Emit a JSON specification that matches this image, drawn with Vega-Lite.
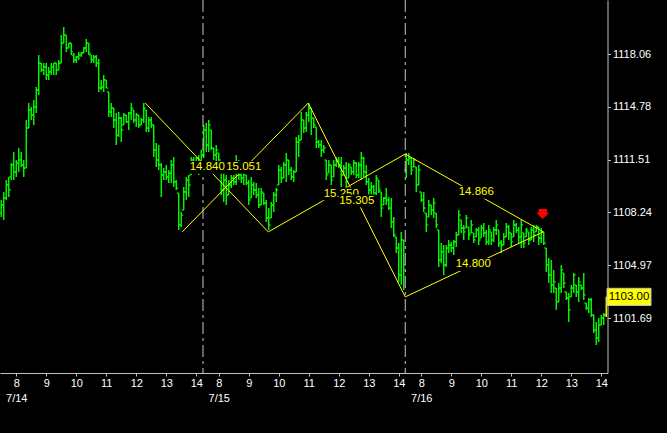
{
"$schema": "https://vega.github.io/schema/vega-lite/v6.json",
"width": 607.5, "height": 373,
"autosize": {"type": "none"},
"padding": {"left": 0, "top": 0, "right": 60, "bottom": 60},
"background": "#000000",
"config": {"view": {"stroke": null}, "axis": {"labelOverlap": false, "labelBound": false, "labelFlush": false, "grid": false}},
"datasets": {
"bars": [
{"m":0,"o":1108.20,"h":1109.01,"l":1107.96,"c":1108.70},
{"m":5,"o":1108.70,"h":1109.51,"l":1107.77,"c":1109.13},
{"m":10,"o":1109.13,"h":1110.25,"l":1109.01,"c":1109.94},
{"m":15,"o":1109.94,"h":1110.44,"l":1109.20,"c":1109.63},
{"m":20,"o":1110.44,"h":1111.30,"l":1110.25,"c":1111.18},
{"m":25,"o":1111.18,"h":1111.99,"l":1110.25,"c":1110.75},
{"m":30,"o":1110.75,"h":1111.49,"l":1110.44,"c":1111.30},
{"m":35,"o":1111.30,"h":1112.23,"l":1110.75,"c":1111.49},
{"m":40,"o":1111.49,"h":1111.99,"l":1111.06,"c":1111.18},
{"m":45,"o":1111.18,"h":1111.49,"l":1110.44,"c":1110.99},
{"m":50,"o":1110.99,"h":1113.97,"l":1110.99,"c":1113.47},
{"m":55,"o":1113.47,"h":1115.02,"l":1113.47,"c":1114.59},
{"m":60,"o":1114.59,"h":1114.78,"l":1113.97,"c":1114.28},
{"m":65,"o":1114.28,"h":1115.21,"l":1113.66,"c":1114.78},
{"m":70,"o":1114.78,"h":1116.02,"l":1114.40,"c":1115.83},
{"m":75,"o":1115.83,"h":1118.00,"l":1115.52,"c":1117.50},
{"m":80,"o":1117.50,"h":1117.50,"l":1116.95,"c":1117.07},
{"m":85,"o":1117.07,"h":1117.50,"l":1116.76,"c":1117.26},
{"m":90,"o":1117.26,"h":1117.50,"l":1116.45,"c":1116.76},
{"m":95,"o":1116.76,"h":1117.26,"l":1116.45,"c":1116.95},
{"m":100,"o":1116.95,"h":1117.50,"l":1116.76,"c":1117.26},
{"m":105,"o":1117.26,"h":1117.50,"l":1116.76,"c":1117.50},
{"m":110,"o":1117.50,"h":1117.50,"l":1116.76,"c":1117.07},
{"m":115,"o":1117.07,"h":1117.69,"l":1117.07,"c":1117.50},
{"m":120,"o":1117.50,"h":1119.24,"l":1117.50,"c":1118.74},
{"m":125,"o":1118.74,"h":1119.74,"l":1118.74,"c":1119.24},
{"m":130,"o":1119.24,"h":1119.24,"l":1118.19,"c":1118.43},
{"m":135,"o":1118.43,"h":1118.74,"l":1118.43,"c":1118.74},
{"m":140,"o":1118.74,"h":1118.74,"l":1118.00,"c":1118.19},
{"m":145,"o":1118.00,"h":1118.12,"l":1117.50,"c":1117.69},
{"m":150,"o":1117.69,"h":1117.94,"l":1117.50,"c":1117.88},
{"m":155,"o":1117.88,"h":1118.19,"l":1117.69,"c":1118.00},
{"m":160,"o":1118.00,"h":1118.19,"l":1117.88,"c":1118.12},
{"m":165,"o":1118.12,"h":1118.50,"l":1118.12,"c":1118.43},
{"m":170,"o":1118.43,"h":1118.99,"l":1118.19,"c":1118.74},
{"m":175,"o":1118.74,"h":1118.74,"l":1118.00,"c":1118.12},
{"m":180,"o":1118.00,"h":1118.00,"l":1117.50,"c":1117.69},
{"m":185,"o":1117.69,"h":1118.00,"l":1117.50,"c":1117.88},
{"m":190,"o":1117.88,"h":1118.00,"l":1117.26,"c":1117.50},
{"m":195,"o":1117.50,"h":1117.75,"l":1115.71,"c":1115.95},
{"m":200,"o":1115.95,"h":1116.45,"l":1115.83,"c":1116.02},
{"m":205,"o":1116.02,"h":1116.76,"l":1115.71,"c":1116.45},
{"m":210,"o":1116.45,"h":1116.45,"l":1115.95,"c":1115.95},
{"m":215,"o":1115.71,"h":1115.71,"l":1114.16,"c":1114.47},
{"m":220,"o":1114.47,"h":1115.02,"l":1114.16,"c":1114.71},
{"m":225,"o":1114.71,"h":1114.71,"l":1113.47,"c":1113.97},
{"m":230,"o":1113.97,"h":1114.40,"l":1112.42,"c":1113.04},
{"m":235,"o":1113.04,"h":1114.47,"l":1112.92,"c":1114.09},
{"m":240,"o":1114.09,"h":1114.16,"l":1112.61,"c":1113.35},
{"m":245,"o":1113.66,"h":1114.40,"l":1113.66,"c":1114.28},
{"m":250,"o":1114.28,"h":1114.28,"l":1113.78,"c":1113.85},
{"m":255,"o":1113.85,"h":1114.47,"l":1113.35,"c":1114.40},
{"m":260,"o":1114.40,"h":1115.02,"l":1113.97,"c":1114.71},
{"m":265,"o":1114.59,"h":1114.59,"l":1113.78,"c":1113.97},
{"m":270,"o":1113.97,"h":1114.40,"l":1113.54,"c":1114.28},
{"m":275,"o":1114.28,"h":1114.28,"l":1113.47,"c":1113.66},
{"m":280,"o":1113.66,"h":1114.09,"l":1113.66,"c":1113.97},
{"m":285,"o":1113.97,"h":1115.02,"l":1113.78,"c":1114.71},
{"m":290,"o":1114.59,"h":1114.59,"l":1113.23,"c":1113.47},
{"m":295,"o":1113.47,"h":1114.16,"l":1113.23,"c":1113.97},
{"m":300,"o":1113.97,"h":1114.16,"l":1113.47,"c":1113.66},
{"m":305,"o":1113.66,"h":1113.66,"l":1111.68,"c":1112.11},
{"m":310,"o":1112.11,"h":1112.54,"l":1111.06,"c":1111.49},
{"m":315,"o":1111.49,"h":1112.42,"l":1110.87,"c":1111.18},
{"m":320,"o":1111.18,"h":1111.30,"l":1109.20,"c":1110.56},
{"m":325,"o":1110.56,"h":1110.99,"l":1110.25,"c":1110.75},
{"m":330,"o":1110.75,"h":1111.18,"l":1110.25,"c":1110.44},
{"m":335,"o":1110.44,"h":1110.87,"l":1110.06,"c":1110.68},
{"m":340,"o":1110.68,"h":1111.49,"l":1110.06,"c":1111.18},
{"m":345,"o":1111.18,"h":1111.68,"l":1109.82,"c":1110.13},
{"m":350,"o":1110.13,"h":1110.25,"l":1109.63,"c":1109.75},
{"m":355,"o":1109.44,"h":1109.44,"l":1107.15,"c":1107.46},
{"m":360,"o":1107.46,"h":1108.27,"l":1107.34,"c":1108.08},
{"m":365,"o":1108.39,"h":1109.82,"l":1108.39,"c":1109.51},
{"m":370,"o":1109.51,"h":1110.44,"l":1109.01,"c":1110.25},
{"m":375,"o":1110.25,"h":1110.56,"l":1109.20,"c":1109.94},
{"m":380,"o":1110.56,"h":1111.68,"l":1110.56,"c":1111.49},
{"m":385,"o":1111.49,"h":1111.68,"l":1110.87,"c":1111.18},
{"m":390,"o":1111.18,"h":1111.68,"l":1110.75,"c":1111.61},
{"m":395,"o":1111.61,"h":1111.80,"l":1110.56,"c":1110.87},
{"m":400,"o":1110.99,"h":1112.11,"l":1110.99,"c":1111.80},
{"m":405,"o":1112.11,"h":1113.66,"l":1111.61,"c":1113.35},
{"m":410,"o":1113.35,"h":1113.78,"l":1111.99,"c":1112.42},
{"m":415,"o":1112.42,"h":1113.97,"l":1111.99,"c":1113.66},
{"m":420,"o":1113.35,"h":1113.35,"l":1112.11,"c":1112.23},
{"m":425,"o":1112.23,"h":1112.23,"l":1111.49,"c":1111.80},
{"m":430,"o":1111.80,"h":1112.42,"l":1111.37,"c":1112.11},
{"m":435,"o":1111.92,"h":1111.92,"l":1111.37,"c":1111.49},
{"m":440,"o":1111.18,"h":1111.18,"l":1109.32,"c":1109.63},
{"m":445,"o":1109.63,"h":1110.75,"l":1108.89,"c":1110.25},
{"m":450,"o":1110.25,"h":1110.56,"l":1108.70,"c":1109.32},
{"m":455,"o":1109.32,"h":1110.25,"l":1109.32,"c":1109.94},
{"m":460,"o":1109.94,"h":1110.56,"l":1109.75,"c":1110.37},
{"m":465,"o":1110.37,"h":1110.56,"l":1109.94,"c":1110.13},
{"m":470,"o":1110.13,"h":1111.80,"l":1109.94,"c":1111.18},
{"m":475,"o":1111.18,"h":1111.49,"l":1110.25,"c":1110.56},
{"m":480,"o":1110.56,"h":1110.68,"l":1110.06,"c":1110.37},
{"m":485,"o":1110.37,"h":1110.87,"l":1109.94,"c":1110.75},
{"m":490,"o":1110.56,"h":1110.56,"l":1109.94,"c":1110.06},
{"m":495,"o":1110.06,"h":1110.25,"l":1108.70,"c":1109.01},
{"m":500,"o":1109.13,"h":1110.44,"l":1109.13,"c":1109.94},
{"m":505,"o":1109.94,"h":1110.13,"l":1109.32,"c":1109.63},
{"m":510,"o":1109.63,"h":1110.06,"l":1109.13,"c":1109.32},
{"m":515,"o":1109.32,"h":1109.75,"l":1108.51,"c":1108.70},
{"m":520,"o":1108.70,"h":1109.75,"l":1108.70,"c":1109.51},
{"m":525,"o":1109.44,"h":1109.44,"l":1108.70,"c":1108.82},
{"m":530,"o":1108.82,"h":1109.01,"l":1107.65,"c":1107.89},
{"m":535,"o":1107.89,"h":1108.51,"l":1107.15,"c":1107.46},
{"m":540,"o":1107.89,"h":1108.89,"l":1107.89,"c":1108.70},
{"m":545,"o":1108.70,"h":1109.51,"l":1108.27,"c":1109.32},
{"m":550,"o":1109.32,"h":1109.75,"l":1108.89,"c":1109.63},
{"m":555,"o":1109.94,"h":1111.18,"l":1109.94,"c":1110.87},
{"m":560,"o":1110.87,"h":1111.06,"l":1110.06,"c":1110.37},
{"m":565,"o":1110.37,"h":1111.37,"l":1110.37,"c":1111.18},
{"m":570,"o":1111.18,"h":1111.92,"l":1110.13,"c":1111.49},
{"m":575,"o":1111.49,"h":1111.49,"l":1110.56,"c":1110.87},
{"m":580,"o":1110.87,"h":1111.06,"l":1110.25,"c":1110.44},
{"m":585,"o":1110.44,"h":1110.87,"l":1110.13,"c":1110.75},
{"m":590,"o":1110.75,"h":1112.92,"l":1110.75,"c":1112.61},
{"m":595,"o":1112.61,"h":1113.04,"l":1111.68,"c":1112.73},
{"m":600,"o":1112.73,"h":1114.47,"l":1112.73,"c":1113.97},
{"m":605,"o":1113.97,"h":1113.97,"l":1113.16,"c":1113.47},
{"m":610,"o":1113.47,"h":1114.47,"l":1113.23,"c":1114.28},
{"m":615,"o":1114.28,"h":1115.02,"l":1113.85,"c":1114.71},
{"m":620,"o":1114.71,"h":1114.71,"l":1113.04,"c":1114.09},
{"m":625,"o":1114.09,"h":1114.09,"l":1113.47,"c":1113.66},
{"m":630,"o":1113.54,"h":1113.54,"l":1112.23,"c":1112.61},
{"m":635,"o":1112.61,"h":1112.73,"l":1112.23,"c":1112.42},
{"m":640,"o":1112.42,"h":1112.73,"l":1111.68,"c":1112.11},
{"m":645,"o":1112.11,"h":1112.42,"l":1111.92,"c":1112.23},
{"m":650,"o":1111.49,"h":1111.49,"l":1110.25,"c":1110.56},
{"m":655,"o":1110.68,"h":1111.49,"l":1110.68,"c":1111.18},
{"m":660,"o":1111.18,"h":1111.18,"l":1109.94,"c":1110.25},
{"m":665,"o":1110.44,"h":1111.49,"l":1110.44,"c":1111.18},
{"m":670,"o":1111.18,"h":1111.68,"l":1111.06,"c":1111.49},
{"m":675,"o":1111.49,"h":1111.68,"l":1110.99,"c":1111.18},
{"m":680,"o":1111.18,"h":1111.68,"l":1109.82,"c":1110.56},
{"m":685,"o":1110.56,"h":1111.18,"l":1110.56,"c":1110.99},
{"m":690,"o":1110.99,"h":1111.37,"l":1109.82,"c":1110.13},
{"m":695,"o":1110.37,"h":1111.30,"l":1110.37,"c":1111.18},
{"m":700,"o":1111.06,"h":1111.06,"l":1110.56,"c":1110.75},
{"m":705,"o":1110.75,"h":1111.49,"l":1110.56,"c":1111.30},
{"m":710,"o":1111.30,"h":1111.37,"l":1110.37,"c":1110.56},
{"m":715,"o":1110.56,"h":1111.37,"l":1110.37,"c":1111.18},
{"m":720,"o":1111.18,"h":1111.99,"l":1110.25,"c":1111.61},
{"m":725,"o":1111.61,"h":1111.68,"l":1110.44,"c":1110.75},
{"m":730,"o":1110.75,"h":1111.18,"l":1109.94,"c":1110.13},
{"m":735,"o":1110.13,"h":1110.37,"l":1109.32,"c":1109.63},
{"m":740,"o":1109.63,"h":1110.13,"l":1109.32,"c":1109.82},
{"m":745,"o":1109.82,"h":1109.94,"l":1109.20,"c":1109.44},
{"m":750,"o":1109.44,"h":1110.56,"l":1109.32,"c":1110.37},
{"m":755,"o":1110.25,"h":1110.25,"l":1109.44,"c":1109.63},
{"m":760,"o":1109.51,"h":1109.51,"l":1107.96,"c":1108.51},
{"m":765,"o":1108.70,"h":1109.20,"l":1108.70,"c":1109.13},
{"m":770,"o":1109.13,"h":1109.75,"l":1108.70,"c":1109.01},
{"m":775,"o":1109.01,"h":1109.20,"l":1108.39,"c":1108.51},
{"m":780,"o":1108.51,"h":1109.13,"l":1107.27,"c":1107.65},
{"m":785,"o":1107.65,"h":1107.96,"l":1106.72,"c":1106.84},
{"m":790,"o":1106.72,"h":1106.72,"l":1105.72,"c":1106.03},
{"m":795,"o":1106.03,"h":1106.34,"l":1103.93,"c":1104.36},
{"m":800,"o":1104.36,"h":1107.03,"l":1103.74,"c":1106.53},
{"m":805,"o":1106.53,"h":1106.53,"l":1103.43,"c":1104.98},
{"m":810,"o":1110.87,"h":1111.92,"l":1110.37,"c":1111.49},
{"m":815,"o":1111.49,"h":1111.92,"l":1111.18,"c":1111.61},
{"m":820,"o":1111.61,"h":1111.61,"l":1110.56,"c":1110.87},
{"m":825,"o":1111.06,"h":1111.61,"l":1111.06,"c":1111.49},
{"m":830,"o":1111.06,"h":1111.06,"l":1109.51,"c":1109.94},
{"m":835,"o":1109.94,"h":1111.18,"l":1109.94,"c":1110.87},
{"m":840,"o":1109.51,"h":1109.51,"l":1108.89,"c":1109.01},
{"m":845,"o":1109.01,"h":1109.51,"l":1108.27,"c":1108.51},
{"m":850,"o":1108.20,"h":1108.20,"l":1107.03,"c":1107.46},
{"m":855,"o":1107.96,"h":1109.01,"l":1107.96,"c":1108.70},
{"m":860,"o":1108.70,"h":1108.70,"l":1108.08,"c":1108.39},
{"m":865,"o":1108.39,"h":1109.13,"l":1107.89,"c":1108.82},
{"m":870,"o":1108.20,"h":1108.20,"l":1107.27,"c":1107.46},
{"m":875,"o":1107.15,"h":1107.15,"l":1104.86,"c":1105.29},
{"m":880,"o":1105.29,"h":1106.34,"l":1105.10,"c":1105.79},
{"m":885,"o":1105.79,"h":1106.22,"l":1104.36,"c":1104.98},
{"m":890,"o":1104.98,"h":1106.22,"l":1104.86,"c":1106.03},
{"m":895,"o":1106.03,"h":1106.53,"l":1105.72,"c":1106.22},
{"m":900,"o":1106.22,"h":1106.41,"l":1105.79,"c":1106.03},
{"m":905,"o":1106.03,"h":1106.53,"l":1105.60,"c":1106.41},
{"m":910,"o":1106.41,"h":1107.03,"l":1106.10,"c":1106.84},
{"m":915,"o":1106.84,"h":1108.39,"l":1106.84,"c":1108.08},
{"m":920,"o":1107.77,"h":1107.77,"l":1106.96,"c":1107.27},
{"m":925,"o":1107.27,"h":1107.46,"l":1106.53,"c":1107.03},
{"m":930,"o":1107.27,"h":1108.08,"l":1107.27,"c":1107.89},
{"m":935,"o":1107.34,"h":1107.34,"l":1106.53,"c":1106.84},
{"m":940,"o":1106.96,"h":1107.77,"l":1106.96,"c":1107.46},
{"m":945,"o":1106.96,"h":1106.96,"l":1106.34,"c":1106.53},
{"m":950,"o":1106.72,"h":1107.27,"l":1106.72,"c":1107.15},
{"m":955,"o":1107.15,"h":1107.34,"l":1106.22,"c":1106.53},
{"m":960,"o":1106.65,"h":1107.46,"l":1106.65,"c":1107.27},
{"m":965,"o":1107.27,"h":1107.58,"l":1106.72,"c":1106.96},
{"m":970,"o":1106.96,"h":1107.15,"l":1106.22,"c":1106.41},
{"m":975,"o":1106.41,"h":1107.46,"l":1106.22,"c":1107.15},
{"m":980,"o":1107.03,"h":1107.03,"l":1106.22,"c":1106.53},
{"m":985,"o":1106.53,"h":1107.34,"l":1106.41,"c":1107.15},
{"m":990,"o":1107.15,"h":1107.77,"l":1106.84,"c":1107.46},
{"m":995,"o":1107.15,"h":1107.15,"l":1106.10,"c":1106.34},
{"m":1000,"o":1106.34,"h":1106.53,"l":1105.72,"c":1106.22},
{"m":1005,"o":1106.22,"h":1106.96,"l":1106.22,"c":1106.72},
{"m":1010,"o":1106.72,"h":1107.58,"l":1106.72,"c":1107.34},
{"m":1015,"o":1107.34,"h":1107.46,"l":1106.53,"c":1106.96},
{"m":1020,"o":1106.96,"h":1106.96,"l":1106.10,"c":1106.41},
{"m":1025,"o":1106.72,"h":1107.77,"l":1106.72,"c":1107.46},
{"m":1030,"o":1107.46,"h":1107.58,"l":1106.96,"c":1107.15},
{"m":1035,"o":1107.15,"h":1107.34,"l":1106.34,"c":1106.72},
{"m":1040,"o":1106.72,"h":1107.77,"l":1106.03,"c":1107.46},
{"m":1045,"o":1106.96,"h":1106.96,"l":1106.03,"c":1106.34},
{"m":1050,"o":1106.72,"h":1107.27,"l":1106.72,"c":1107.15},
{"m":1055,"o":1107.03,"h":1107.03,"l":1106.22,"c":1106.53},
{"m":1060,"o":1106.53,"h":1107.34,"l":1106.53,"c":1107.15},
{"m":1065,"o":1107.15,"h":1107.46,"l":1106.41,"c":1106.84},
{"m":1070,"o":1107.03,"h":1107.46,"l":1107.03,"c":1107.34},
{"m":1075,"o":1107.34,"h":1107.34,"l":1106.22,"c":1106.65},
{"m":1080,"o":1106.65,"h":1107.27,"l":1106.34,"c":1107.03},
{"m":1085,"o":1107.03,"h":1107.03,"l":1106.22,"c":1106.34},
{"m":1090,"o":1106.03,"h":1106.03,"l":1104.55,"c":1104.98},
{"m":1095,"o":1104.98,"h":1105.41,"l":1103.86,"c":1104.36},
{"m":1100,"o":1104.36,"h":1105.29,"l":1103.24,"c":1103.74},
{"m":1105,"o":1103.74,"h":1104.67,"l":1103.24,"c":1103.93},
{"m":1110,"o":1103.55,"h":1103.55,"l":1102.19,"c":1102.69},
{"m":1115,"o":1102.69,"h":1103.86,"l":1102.69,"c":1103.55},
{"m":1120,"o":1103.55,"h":1104.98,"l":1103.24,"c":1104.67},
{"m":1125,"o":1104.48,"h":1104.48,"l":1103.55,"c":1103.86},
{"m":1130,"o":1103.31,"h":1103.31,"l":1102.81,"c":1102.93},
{"m":1135,"o":1102.93,"h":1103.24,"l":1101.45,"c":1102.19},
{"m":1140,"o":1103.00,"h":1103.74,"l":1103.00,"c":1103.55},
{"m":1145,"o":1103.55,"h":1104.48,"l":1103.24,"c":1104.36},
{"m":1150,"o":1103.74,"h":1103.74,"l":1103.00,"c":1103.31},
{"m":1155,"o":1103.31,"h":1104.24,"l":1102.69,"c":1103.93},
{"m":1160,"o":1103.74,"h":1103.74,"l":1103.43,"c":1103.55},
{"m":1165,"o":1103.55,"h":1104.48,"l":1102.81,"c":1103.12},
{"m":1170,"o":1102.62,"h":1102.62,"l":1102.19,"c":1102.31},
{"m":1175,"o":1102.31,"h":1102.93,"l":1102.00,"c":1102.81},
{"m":1180,"o":1102.81,"h":1102.93,"l":1101.76,"c":1101.88},
{"m":1185,"o":1101.88,"h":1101.88,"l":1100.76,"c":1100.95},
{"m":1190,"o":1100.95,"h":1101.45,"l":1100.02,"c":1100.45},
{"m":1195,"o":1100.45,"h":1101.69,"l":1100.21,"c":1101.26},
{"m":1200,"o":1101.26,"h":1101.88,"l":1101.26,"c":1101.69},
{"m":1205,"o":1101.69,"h":1102.00,"l":1101.26,"c":1101.88},
{"m":1210,"o":1101.88,"h":1103.00,"l":1101.76,"c":1103.00}
],
"days": [{"m":403.5},{"m":808}],
"lines": [
{"m":288,"p":1115.02,"m2":534,"p2":1107.03},
{"m":362,"p":1107.03,"m2":614,"p2":1115.02},
{"m":614,"p":1115.02,"m2":808,"p2":1103.00},
{"m":534,"p":1107.03,"m2":808,"p2":1111.86},
{"m":808,"p":1111.86,"m2":1084,"p2":1107.03},
{"m":808,"p":1103.00,"m2":1084,"p2":1107.03}
],
"labels": [
{"m":412,"p":1111.03,"t":"14.840"},
{"m":485,"p":1111.03,"t":"15.051"},
{"m":680,"p":1109.38,"t":"15.250"},
{"m":711,"p":1108.95,"t":"15.305"},
{"m":950,"p":1109.48,"t":"14.866"},
{"m":944,"p":1105.01,"t":"14.800"}
],
"signal": [{"m":1083,"p":1108.14}],
"last": [{"m":1255.5,"p":1103.00,"t":"1103.00"}]
},
"encoding": {
"x": {"field": "m", "type": "quantitative", "title": null, "scale": {"domain": [-2.5, 1212.5], "nice": false, "zero": false},
"axis": {"title": null, "grid": false, "values": [30,90,150,210,270,330,390,435,495,555,615,675,735,795,840,900,960,1020,1080,1140,1200],
"labelExpr": "datum.value % 405 == 30 ? [format(floor((datum.value % 405) / 60 + 7.5), 'd'), ['7/14','7/15','7/16'][floor(datum.value / 405)]] : format(floor((datum.value % 405) / 60 + 7.5), 'd')",
"labelPadding": 1, "labelLineHeight": 15, "labelOverlap": false, "labelFlush": false, "labelBound": false, "labelSeparation": 0,
"tickSize": 3, "domainColor": "#c0c0c0", "tickColor": "#c0c0c0", "labelColor": "#ffffff",
"labelFont": "Liberation Sans", "labelFontSize": 11}}
},
"layer": [
{
"data": {"name": "bars"},
"mark": {"type": "rule", "strokeWidth": 1.4},
"encoding": {
"y": {"field": "l", "type": "quantitative", "title": null, "scale": {"domain": [1098.28, 1121.41], "nice": false, "zero": false},
"axis": {"title": null, "orient": "right", "grid": false, "values": [1101.69,1104.97,1108.24,1111.51,1114.78,1118.06], "format": ".2f",
"labelPadding": 2, "labelOverlap": false, "labelBound": false, "tickSize": 3, "domainColor": "#c0c0c0", "tickColor": "#c0c0c0", "labelColor": "#ffffff",
"labelFont": "Liberation Sans", "labelFontSize": 11}},
"y2": {"field": "h"},
"color": {"condition": {"test": "datum.m == 1210", "value": "#ffff00"}, "value": "#00ff00"}
}
},
{
"data": {"name": "bars"},
"mark": {"type": "tick", "orient": "horizontal", "size": 2, "thickness": 1.2, "xOffset": -1, "opacity": 1},
"encoding": {
"y": {"field": "o", "type": "quantitative", "title": null, "scale": {"domain": [1098.28, 1121.41], "nice": false, "zero": false}},
"color": {"condition": {"test": "datum.m == 1210", "value": "#ffff00"}, "value": "#00ff00"}
}
},
{
"data": {"name": "bars"},
"mark": {"type": "tick", "orient": "horizontal", "size": 2, "thickness": 1.2, "xOffset": 1, "opacity": 1},
"encoding": {
"y": {"field": "c", "type": "quantitative", "title": null, "scale": {"domain": [1098.28, 1121.41], "nice": false, "zero": false}},
"color": {"condition": {"test": "datum.m == 1210", "value": "#ffff00"}, "value": "#00ff00"}
}
},
{
"data": {"name": "days"},
"mark": {"type": "rule", "color": "#c8c8c8", "strokeWidth": 1, "strokeDash": [12, 4, 3, 4]},
"encoding": {}
},
{
"data": {"name": "lines"},
"mark": {"type": "rule", "color": "#ffff00", "strokeWidth": 1},
"encoding": {
"y": {"field": "p", "type": "quantitative", "title": null, "scale": {"domain": [1098.28, 1121.41], "nice": false, "zero": false}},
"x2": {"field": "m2"},
"y2": {"field": "p2"}
}
},
{
"data": {"name": "labels"},
"transform": [{"filter": "datum.t != '15.305'"}],
"mark": {"type": "point", "shape": "M-1,-0.36L1,-0.36L1,0.36L-1,0.36Z", "size": 1296, "filled": true, "color": "#000000", "opacity": 1, "strokeWidth": 0},
"encoding": {
"y": {"field": "p", "type": "quantitative", "title": null, "scale": {"domain": [1098.28, 1121.41], "nice": false, "zero": false}}
}
},
{
"data": {"name": "labels"},
"transform": [{"filter": "datum.t != '15.305'"}],
"mark": {"type": "text", "color": "#ffff00", "font": "Liberation Sans", "fontSize": 11.5, "align": "center", "baseline": "middle"},
"encoding": {
"y": {"field": "p", "type": "quantitative", "title": null, "scale": {"domain": [1098.28, 1121.41], "nice": false, "zero": false}},
"text": {"field": "t"}
}
},
{
"data": {"name": "labels"},
"transform": [{"filter": "datum.t == '15.305'"}],
"mark": {"type": "point", "shape": "M-1,-0.36L1,-0.36L1,0.36L-1,0.36Z", "size": 1296, "filled": true, "color": "#000000", "opacity": 1, "strokeWidth": 0},
"encoding": {
"y": {"field": "p", "type": "quantitative", "title": null, "scale": {"domain": [1098.28, 1121.41], "nice": false, "zero": false}}
}
},
{
"data": {"name": "labels"},
"transform": [{"filter": "datum.t == '15.305'"}],
"mark": {"type": "text", "color": "#ffff00", "font": "Liberation Sans", "fontSize": 11.5, "align": "center", "baseline": "middle"},
"encoding": {
"y": {"field": "p", "type": "quantitative", "title": null, "scale": {"domain": [1098.28, 1121.41], "nice": false, "zero": false}},
"text": {"field": "t"}
}
},
{
"data": {"name": "signal"},
"mark": {"type": "point", "shape": "M-0.65,-0.77L0.65,-0.77L0.65,-0.2L1,-0.2L0,0.77L-1,-0.2L-0.65,-0.2Z", "size": 169, "filled": true, "color": "#ff0000", "opacity": 1, "strokeWidth": 0},
"encoding": {
"y": {"field": "p", "type": "quantitative", "title": null, "scale": {"domain": [1098.28, 1121.41], "nice": false, "zero": false}}
}
},
{
"data": {"name": "last"},
"mark": {"type": "point", "shape": "M-1,-0.39L1,-0.39L1,0.39L-1,0.39Z", "size": 1936, "filled": true, "fill": "#ffff00", "stroke": "#c0c0c0", "strokeWidth": 1, "opacity": 1},
"encoding": {
"y": {"field": "p", "type": "quantitative", "title": null, "scale": {"domain": [1098.28, 1121.41], "nice": false, "zero": false}}
}
},
{
"data": {"name": "last"},
"mark": {"type": "text", "color": "#000000", "font": "Liberation Sans", "fontSize": 11.5, "align": "center", "baseline": "middle"},
"encoding": {
"y": {"field": "p", "type": "quantitative", "title": null, "scale": {"domain": [1098.28, 1121.41], "nice": false, "zero": false}},
"text": {"field": "t"}
}
}
]
}
